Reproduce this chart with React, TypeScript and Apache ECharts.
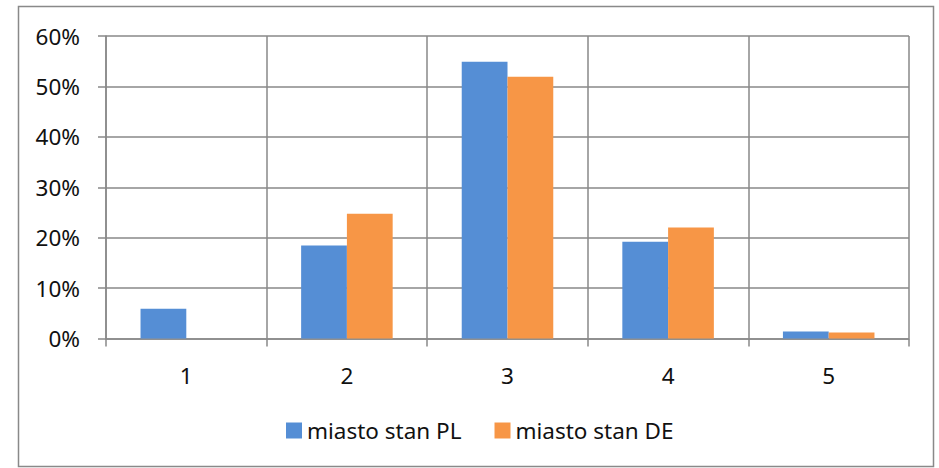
import React, { useEffect, useRef } from "react";
import * as echarts from "echarts";

const categories = ["1", "2", "3", "4", "5"];
const seriesNames = ["miasto stan PL", "miasto stan DE"];
const valuesPL = [0.059, 0.1845, 0.549, 0.192, 0.014];
const valuesDE = [0, 0.2475, 0.519, 0.22, 0.012];
const colors = ["#558ED5", "#F79646"];

const FONT = "'Noto Sans', 'Open Sans', sans-serif";
const GRID = "#898989";

export default function App() {
  const ref = useRef<HTMLDivElement>(null);
  useEffect(() => {
    if (!ref.current) return;
    const chart = echarts.init(ref.current, undefined, { renderer: "svg" });
    chart.setOption({
      animation: false,
      backgroundColor: "#fff",
      textStyle: { fontFamily: FONT },
      graphic: [
        {
          type: "rect",
          shape: { x: 18.5, y: 6.5, width: 915, height: 460 },
          style: { fill: "none", stroke: GRID, lineWidth: 1.5 },
          silent: true,
        },
      ],
      grid: { left: 106, right: 30, top: 36, bottom: 129.5, containLabel: false },
      legend: {
        left: 286,
        top: 419,
        padding: 0,
        itemWidth: 16,
        itemHeight: 16,
        itemGap: 33,
        icon: "rect",
        textStyle: { fontSize: 22.5, color: "#111", fontFamily: FONT },
        data: seriesNames,
      },
      xAxis: {
        type: "category",
        data: categories,
        boundaryGap: true,
        axisLine: { show: true, lineStyle: { color: GRID, width: 1.5 } },
        axisTick: { show: true, length: 8, lineStyle: { color: GRID, width: 1.5 } },
        splitLine: { show: true, lineStyle: { color: GRID, width: 1.5 } },
        axisLabel: { fontSize: 22.5, color: "#111", margin: 25, fontFamily: FONT },
      },
      yAxis: {
        type: "value",
        min: 0,
        max: 0.6,
        interval: 0.1,
        axisLine: { show: true, lineStyle: { color: GRID, width: 1.5 } },
        axisTick: { show: true, length: 8, lineStyle: { color: GRID, width: 1.5 } },
        splitLine: { show: true, lineStyle: { color: GRID, width: 1.5 } },
        axisLabel: {
          fontSize: 22.5,
          color: "#111",
          margin: 26,
          fontFamily: FONT,
          formatter: (v: number) => Math.round(v * 100) + "%",
        },
      },
      series: [
        {
          name: seriesNames[0],
          type: "bar",
          data: valuesPL,
          itemStyle: { color: colors[0] },
          barGap: "0%",
          barCategoryGap: "43%",
        },
        {
          name: seriesNames[1],
          type: "bar",
          data: valuesDE,
          itemStyle: { color: colors[1] },
          barGap: "0%",
          barCategoryGap: "43%",
        },
      ],
    });
    return () => chart.dispose();
  }, []);
  return (
    <div
      ref={ref}
      style={{ position: "fixed", left: 0, top: 0, width: 939, height: 468 }}
    />
  );
}
